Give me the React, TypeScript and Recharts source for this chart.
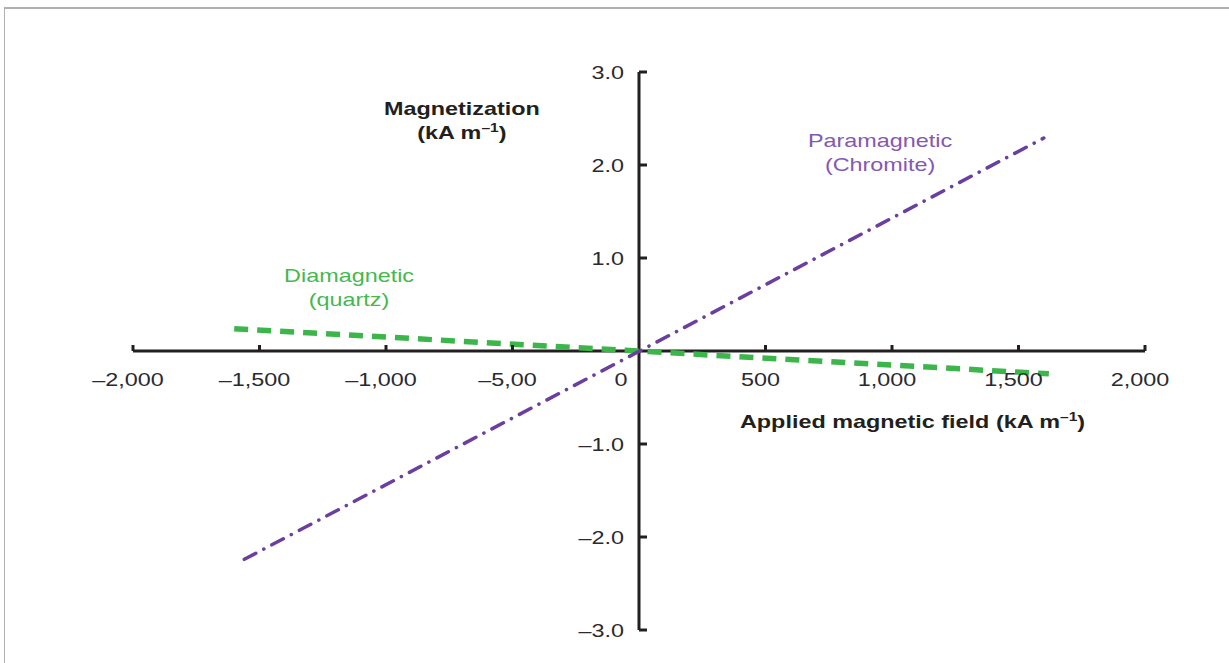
import React from 'react';
import { LineChart, Line, XAxis, YAxis, ReferenceLine, ReferenceDot } from 'recharts';

const FONT = '"Liberation Sans", Arial, Helvetica, sans-serif';
const STRETCH = 1.3;
const INK = '#231f20';
const TICK_INK = '#2a2a30';
const PURPLE = '#6a3f9e';
const PURPLE_TEXT = '#8458b4';
const GREEN = '#3cb54b';
const GREEN_TEXT = '#45b84f';

// Axis ticks
const xTickValues = [-2000, -1500, -1000, -500, 500, 1000, 1500, 2000];
const xTickLabels = ['–2,000', '–1,500', '–1,000', '–5,00', '500', '1,000', '1,500', '2,000'];
const yTickValues = [3, 2, 1, -1, -2, -3];
const yTickLabels = ['3.0', '2.0', '1.0', '–1.0', '–2.0', '–3.0'];

// Paramagnetic (chromite): magnetization vs applied field
const paramagneticField = [-1560, 1600];
const paramagneticMagnetization = [-2.24, 2.29];

// Diamagnetic (quartz): magnetization vs applied field
const diamagneticField = [-1600, 1620];
const diamagneticMagnetization = [0.24, -0.245];

const paramagneticData = paramagneticField.map((x, i) => ({ x, y: paramagneticMagnetization[i] }));
const diamagneticData = diamagneticField.map((x, i) => ({ x, y: diamagneticMagnetization[i] }));

type STextProps = {
  x: number;
  y: number;
  anchor?: 'start' | 'middle' | 'end';
  size?: number;
  weight?: number;
  fill?: string;
  children: React.ReactNode;
};

function SText({ x, y, anchor = 'middle', size = 18, weight = 400, fill = INK, children }: STextProps) {
  return (
    <text
      transform={`translate(${x},${y}) scale(${STRETCH},1)`}
      textAnchor={anchor}
      fontFamily={FONT}
      fontSize={size}
      fontWeight={weight}
      fill={fill}
    >
      {children}
    </text>
  );
}

const Unit = () => (
  <>
    (kA m
    <tspan fontSize={12} dy={-7}>–1</tspan>
    <tspan dy={7}>)</tspan>
  </>
);

export default function App() {
  return (
    <div style={{ position: 'absolute', left: 0, top: 0, width: 1229, height: 663, background: '#fff' }}>
      <div
        style={{
          position: 'absolute',
          left: 4,
          top: 7,
          width: 1225,
          height: 656,
          borderTop: '2px solid #b0b0b0',
          borderLeft: '1px solid #b0b0b0',
          boxSizing: 'border-box',
        }}
      />
      <div style={{ position: 'absolute', left: 0, top: 0 }}>
        <LineChart width={1229} height={663} margin={{ left: 133, right: 84, top: 72, bottom: 33 }}>
          <XAxis type="number" dataKey="x" domain={[-2000, 2000]} hide />
          <YAxis type="number" dataKey="y" domain={[-3, 3]} hide />

          <ReferenceLine y={0} stroke={INK} strokeWidth={3} />
          <ReferenceLine x={0} stroke={INK} strokeWidth={3} />

          {xTickValues.map((v, i) => (
            <ReferenceDot
              key={`xt${v}`}
              x={v}
              y={0}
              r={0}
              shape={(p: any) => (
                <g>
                  <line x1={p.cx} y1={p.cy} x2={p.cx} y2={p.cy - 6} stroke={INK} strokeWidth={3} />
                  <SText x={p.cx - 5} y={p.cy + 35} size={18} fill={TICK_INK}>
                    {xTickLabels[i]}
                  </SText>
                </g>
              )}
            />
          ))}
          <ReferenceDot
            x={0}
            y={0}
            r={0}
            shape={(p: any) => (
              <SText x={p.cx - 18} y={p.cy + 35} size={18} fill={TICK_INK}>
                0
              </SText>
            )}
          />

          {yTickValues.map((v, i) => (
            <ReferenceDot
              key={`yt${v}`}
              x={0}
              y={v}
              r={0}
              shape={(p: any) => (
                <g>
                  <line x1={p.cx} y1={p.cy} x2={p.cx + 8} y2={p.cy} stroke={INK} strokeWidth={3} />
                  <SText x={p.cx - 15} y={p.cy + 7} anchor="end" size={18} fill={TICK_INK}>
                    {yTickLabels[i]}
                  </SText>
                </g>
              )}
            />
          ))}

          <Line
            data={diamagneticData}
            dataKey="y"
            stroke={GREEN}
            strokeWidth={5.5}
            strokeDasharray="14 9"
            dot={false}
            activeDot={false}
            isAnimationActive={false}
          />
          <Line
            data={paramagneticData}
            dataKey="y"
            stroke={PURPLE}
            strokeWidth={3.5}
            strokeLinecap="round"
            strokeDasharray="13 9 0.1 9"
            dot={false}
            activeDot={false}
            isAnimationActive={false}
          />

          <ReferenceDot
            x={-700}
            y={2.54}
            r={0}
            shape={(p: any) => (
              <g>
                <SText x={p.cx} y={p.cy} weight={700}>Magnetization</SText>
                <SText x={p.cx} y={p.cy + 24} weight={700}><Unit /></SText>
              </g>
            )}
          />
          <ReferenceDot
            x={399}
            y={-0.83}
            r={0}
            shape={(p: any) => (
              <SText x={p.cx} y={p.cy} anchor="start" weight={700}>
                Applied magnetic field <Unit />
              </SText>
            )}
          />
          <ReferenceDot
            x={953}
            y={2.19}
            r={0}
            shape={(p: any) => (
              <g>
                <SText x={p.cx} y={p.cy} fill={PURPLE_TEXT}>Paramagnetic</SText>
                <SText x={p.cx} y={p.cy + 24} fill={PURPLE_TEXT}>(Chromite)</SText>
              </g>
            )}
          />
          <ReferenceDot
            x={-1146}
            y={0.74}
            r={0}
            shape={(p: any) => (
              <g>
                <SText x={p.cx} y={p.cy} fill={GREEN_TEXT}>Diamagnetic</SText>
                <SText x={p.cx} y={p.cy + 24} fill={GREEN_TEXT}>(quartz)</SText>
              </g>
            )}
          />
        </LineChart>
      </div>
    </div>
  );
}
